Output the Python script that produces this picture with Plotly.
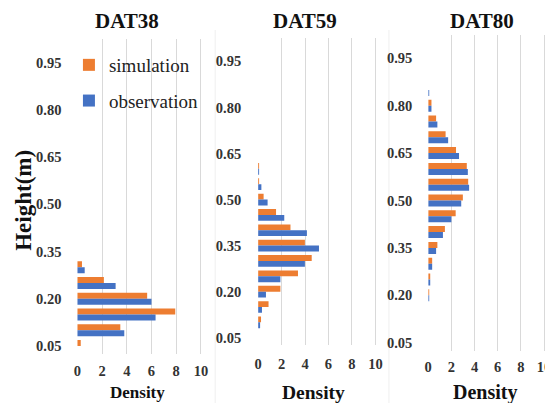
import plotly.graph_objects as go

# The page body has an 8px margin, so the figure is laid out 8px in from
# the window's top-left corner; screen coordinates are converted below.
OFF = 8
W, H = 553 - OFF, 403 - OFF

heights = [0.05, 0.10, 0.15, 0.20, 0.25, 0.30, 0.35, 0.40, 0.45, 0.50,
           0.55, 0.60, 0.65, 0.70, 0.75, 0.80, 0.85, 0.90, 0.95, 1.00]
y_ticks = [0.05, 0.20, 0.35, 0.50, 0.65, 0.80, 0.95]
y_tick_text = ["0.05", "0.20", "0.35", "0.50", "0.65", "0.80", "0.95"]
x_ticks = [0, 2, 4, 6, 8, 10]

panel_titles = ["DAT38", "DAT59", "DAT80"]

sim_dat38 = [0.28, 3.48, 7.92, 5.65, 2.15, 0.38, 0, 0, 0, 0,
             0, 0, 0, 0, 0, 0, 0, 0, 0, 0]
obs_dat38 = [0, 3.80, 6.33, 6.00, 3.10, 0.60, 0, 0, 0, 0,
             0, 0, 0, 0, 0, 0, 0, 0, 0, 0]

sim_dat59 = [0, 0.25, 0.89, 1.90, 3.40, 4.57, 3.99, 2.76, 1.53, 0.47,
             0.08, 0.03, 0, 0, 0, 0, 0, 0, 0, 0]
obs_dat59 = [0, 0.14, 0.33, 0.67, 1.90, 3.99, 5.19, 4.16, 2.23, 0.81,
             0.28, 0.08, 0, 0, 0, 0, 0, 0, 0, 0]

sim_dat80 = [0, 0, 0, 0.08, 0.11, 0.34, 0.79, 1.44, 2.37, 2.99,
             3.45, 3.33, 2.40, 1.50, 0.68, 0.28, 0, 0, 0, 0]
obs_dat80 = [0, 0, 0, 0.08, 0.17, 0.34, 0.68, 1.27, 2.00, 2.85,
             3.53, 3.42, 2.66, 1.72, 0.79, 0.28, 0.08, 0, 0, 0]

sims = [sim_dat38, sim_dat59, sim_dat80]
obss = [obs_dat38, obs_dat59, obs_dat80]

ORANGE = "#ED7D31"
BLUE = "#4472C4"
SERIF = "Liberation Serif, Times New Roman, serif"


def px(sx):
    return (sx - OFF) / W


def py(sy):
    return 1 - (sy - OFF) / H


# panel geometry in screen pixels: (x of 0, px per unit, y of 0.05, px per unit)
geo = [
    (74.5, 12.6, 346.0, 315.0),
    (258.7, 11.95, 337.7, 307.0),
    (432.0, 11.8, 342.7, 316.0),
]
XMAX = 10.1
YMIN, YMAX = 0.025, 1.025

bw = 0.019

fig = go.Figure()
for i in range(3):
    xa = "x" if i == 0 else f"x{i+1}"
    ya = "y" if i == 0 else f"y{i+1}"
    fig.add_trace(go.Bar(
        y=heights, x=sims[i], orientation="h", name="simulation",
        marker=dict(color=ORANGE, line=dict(width=0)),
        width=bw, offset=0.0, xaxis=xa, yaxis=ya,
        showlegend=(i == 0), legendgroup="sim",
    ))
    fig.add_trace(go.Bar(
        y=heights, x=obss[i], orientation="h", name="observation",
        marker=dict(color=BLUE, line=dict(width=0)),
        width=bw, offset=-bw, xaxis=xa, yaxis=ya,
        showlegend=(i == 0), legendgroup="obs",
    ))

layout = dict(
    width=W, height=H,
    margin=dict(l=0, r=0, t=0, b=0),
    paper_bgcolor="white", plot_bgcolor="white",
    barmode="overlay",
    showlegend=True,
    legend=dict(
        x=px(66), y=py(46), xanchor="left", yanchor="top",
        font=dict(family=SERIF, size=19, color="#222222"),
        bgcolor="rgba(0,0,0,0)", traceorder="grouped", tracegroupgap=8,
    ),
)

tick_gap_y = [12, 13, 12]
tick_gap_x = [4, 5, 3]
for i, (x0, sx, y05, sy) in enumerate(geo):
    xl = x0
    xr = x0 + XMAX * sx
    ybot = y05 + (0.05 - YMIN) * sy
    ytop = y05 - (YMAX - 0.05) * sy
    kx = "xaxis" if i == 0 else f"xaxis{i+1}"
    ky = "yaxis" if i == 0 else f"yaxis{i+1}"
    anchor_y = "y" if i == 0 else f"y{i+1}"
    anchor_x = "x" if i == 0 else f"x{i+1}"
    layout[kx] = dict(
        domain=[px(xl), px(xr)], anchor=anchor_y, range=[0, XMAX],
        tickvals=x_ticks, showgrid=True, gridcolor="#D9D9D9", gridwidth=1,
        zeroline=False, showline=False,
        ticks="outside", ticklen=tick_gap_x[i], tickcolor="rgba(0,0,0,0)",
        tickfont=dict(family=SERIF, size=14.5, color="#333333", weight="bold"),
    )
    layout[ky] = dict(
        domain=[py(ybot), py(ytop)], anchor=anchor_x, range=[YMIN, YMAX],
        tickvals=y_ticks, ticktext=y_tick_text, showgrid=False,
        zeroline=False, showline=False,
        ticks="outside", ticklen=tick_gap_y[i], tickcolor="rgba(0,0,0,0)",
        tickfont=dict(family=SERIF, size=14.5, color="#333333", weight="bold"),
    )

fig.update_layout(**layout)

# faint panel separators
for xs in [215, 392]:
    fig.add_shape(type="line", xref="paper", yref="paper",
                  x0=px(xs), x1=px(xs), y0=0, y1=py(30),
                  line=dict(color="#EFEFEF", width=1), layer="below")

title_x = [125, 306.7, 487]
for t, xc in zip(panel_titles, title_x):
    fig.add_annotation(text=t, x=px(xc), y=py(21), xref="paper", yref="paper",
                       xanchor="center", yanchor="middle", showarrow=False,
                       font=dict(family=SERIF, size=21, color="#111111", weight="bold"))

dens_x = [136, 315, 490]
dens_size = [17, 19.5, 20]
for xc, fs in zip(dens_x, dens_size):
    fig.add_annotation(text="Density", x=px(xc), y=py(392), xref="paper", yref="paper",
                       xanchor="center", yanchor="middle", showarrow=False,
                       font=dict(family=SERIF, size=fs, color="#111111", weight="bold"))

fig.add_annotation(text="Height(m)", x=px(20), y=py(200), xref="paper", yref="paper",
                   xanchor="center", yanchor="middle", showarrow=False, textangle=-90,
                   font=dict(family=SERIF, size=23, color="#111111", weight="bold"))

fig.write_html("out.html")
